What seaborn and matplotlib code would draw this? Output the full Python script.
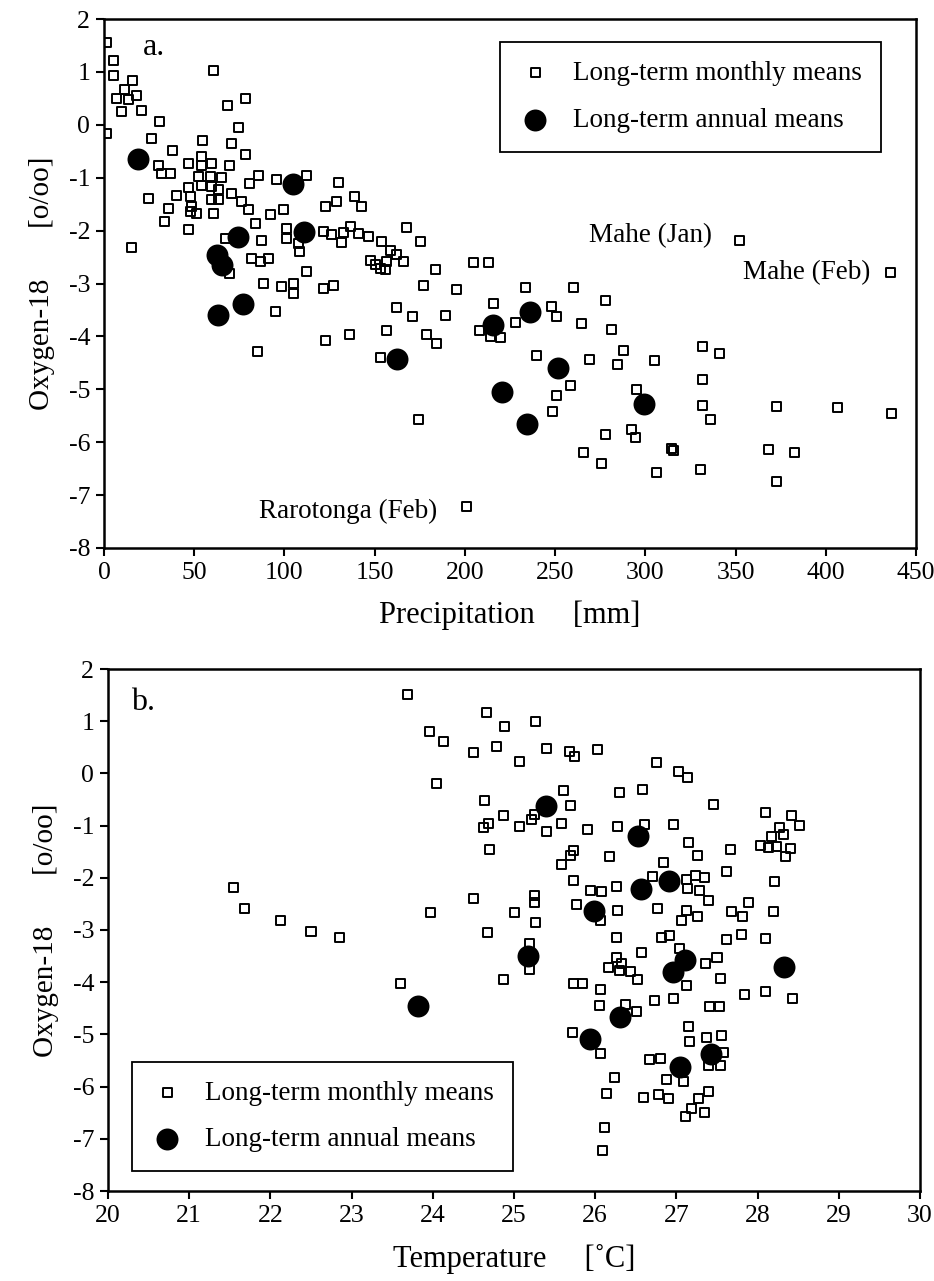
import numpy as np
import pandas as pd
import matplotlib
matplotlib.use("Agg")
import matplotlib.pyplot as plt
import seaborn as sns

sns.set_theme(style="white")
plt.rcParams['font.family'] = ['Liberation Serif', 'DejaVu Serif']
plt.rcParams['text.color'] = 'black'
plt.rcParams['axes.labelcolor'] = 'black'
plt.rcParams['xtick.color'] = 'black'
plt.rcParams['ytick.color'] = 'black'

# ---------------- Panel a: precipitation vs oxygen-18 ----------------
precip_monthly = [
    1.5, 5.2, 5.2, 1.5, 15.7, 11.6, 18.1, 7.0, 13.5, 9.8, 20.9, 30.5, 26.1, 60.6, 68.6, 78.5, 74.8,
    37.9, 54.5, 70.4, 78.2, 54.2, 30.1, 32.0, 37.1, 46.7, 53.8, 59.7, 69.5, 52.3, 58.8, 65.2, 85.5,
    80.9, 95.7, 112.3, 46.7, 53.8, 59.7, 63.4, 24.6, 40.3, 47.7, 35.6, 48.6, 59.7, 63.4, 33.8, 47.7,
    51.4, 60.6, 70.8, 76.3, 80.0, 92.0, 99.4, 46.7, 83.7, 15.4, 67.1, 87.4, 101.3, 101.3, 107.7,
    108.6, 81.9, 86.5, 91.1, 69.8, 112.3, 88.3, 98.5, 104.9, 104.9,
    94.8, 85.2, 121.6, 127.1, 122.5, 135.8, 121.6, 126.2, 131.7, 132.7, 136.4, 141.0, 146.5, 153.9,
    158.5, 162.3, 167.8, 175.2, 165.9, 156.7, 147.5, 150.2, 153.0, 155.8, 183.5, 204.7, 213.0,
    177.0, 195.5, 161.9, 171.1, 189.0, 215.8, 233.4, 260.2, 248.2, 250.6, 227.8, 208.0, 214.0,
    219.5, 264.8, 156.3, 178.5, 184.4, 153.0, 239.9, 269.0, 258.3, 250.9, 248.5, 174.2, 265.7,
    201.0, 122.5, 129.0, 142.8, 130.0, 139.0,
    352.0, 435.7, 277.7, 281.0, 287.9, 284.7, 304.9, 331.9, 341.1, 331.9, 295.3, 331.9, 335.9,
    372.5, 406.5, 436.6, 277.7, 292.5, 294.3, 275.9, 314.7, 315.6, 306.0, 330.4, 368.2, 382.6, 372.9,
]
o18_monthly_a = [
    1.56, 1.21, 0.93, -0.17, 0.83, 0.66, 0.56, 0.50, 0.47, 0.25, 0.27, 0.07, -0.26, 1.02, 0.36, 0.50, -0.05,
    -0.48, -0.29, -0.35, -0.57, -0.59, -0.76, -0.93, -0.92, -0.74, -0.76, -0.73, -0.76, -0.98, -0.97, -1.00, -0.96,
    -1.11, -1.04, -0.96, -1.18, -1.14, -1.17, -1.23, -1.40, -1.33, -1.36, -1.58, -1.55, -1.42, -1.42, -1.83, -1.64,
    -1.67, -1.67, -1.30, -1.45, -1.61, -1.69, -1.61, -1.97, -1.86, -2.32, -2.15, -2.18, -1.96, -2.15, -2.24,
    -2.40, -2.52, -2.59, -2.52, -2.81, -2.78, -3.00, -3.06, -3.00, -3.19,
    -3.53, -4.28, -3.09, -3.03, -4.07, -3.96, -2.02, -2.08, -2.23, -2.03, -1.93, -2.05, -2.11, -2.21,
    -2.37, -2.46, -1.94, -2.21, -2.59, -2.59, -2.56, -2.65, -2.71, -2.74, -2.73, -2.60, -2.60,
    -3.04, -3.12, -3.46, -3.63, -3.61, -3.37, -3.08, -3.08, -3.44, -3.63, -3.74, -3.88, -4.00,
    -4.02, -3.75, -3.88, -3.97, -4.14, -4.40, -4.37, -4.43, -4.93, -5.11, -5.42, -5.58, -6.19,
    -7.22, -1.55, -1.45, -1.55, -1.10, -1.35,
    -2.19, -2.79, -3.32, -3.87, -4.27, -4.53, -4.45, -4.19, -4.33, -4.82, -5.00, -5.31, -5.58,
    -5.33, -5.34, -5.45, -5.85, -5.76, -5.91, -6.40, -6.12, -6.16, -6.58, -6.51, -6.13, -6.19, -6.75,
]
precip_annual = [18.7, 104.9, 111.0, 74.4, 62.5, 65.2, 77.2, 63.4, 162.3, 215.5, 236.1, 251.5, 220.5, 234.3, 299.0]
o18_annual_a = [-0.65, -1.11, -2.02, -2.13, -2.46, -2.65, -3.39, -3.60, -4.43, -3.78, -3.53, -4.60, -5.05, -5.66, -5.28]

# ---------------- Panel b: temperature vs oxygen-18 ----------------
temp_monthly = [
    21.54, 21.68, 22.13, 22.50, 22.85,
    23.69, 23.96, 24.13, 24.05, 24.66, 24.88, 25.27, 24.78, 24.50, 25.07, 25.40, 25.68, 25.74, 26.03,
    26.75, 27.02, 24.64, 25.61, 25.70, 26.30, 26.58, 24.63, 24.68, 24.87, 25.07, 25.22, 25.25, 25.40,
    25.59, 25.90, 26.28, 26.61, 26.96, 24.70, 25.73, 25.69, 25.59, 26.17, 26.84, 26.71, 25.73, 25.94,
    26.08, 26.26, 25.77, 26.06, 26.28, 26.77, 25.25, 25.25, 24.50, 23.97, 25.01, 25.27, 24.67, 25.19,
    25.19, 26.26, 26.57, 26.82, 26.92,
    24.87, 23.60, 25.73, 25.84, 26.07, 26.05, 25.72, 26.06, 26.24, 26.14, 26.12, 26.09, 26.26, 26.33,
    26.16, 26.30, 26.44, 26.52, 26.37, 26.51,
    27.14, 27.46, 28.10, 28.42, 28.52, 28.27, 28.03, 28.13, 28.23, 28.32, 28.40, 28.34, 28.17, 27.15,
    27.26, 27.67, 27.62, 28.21, 27.89, 28.19, 27.68, 27.82, 27.13, 27.23, 27.34, 27.14, 27.28, 27.39,
    27.13, 27.06, 27.26, 27.62, 27.80, 28.10, 27.04, 27.36, 27.50, 27.54, 27.13, 27.84, 28.10, 28.43,
    26.73, 26.96, 27.41, 27.53, 27.15, 27.16, 27.37, 27.56, 27.58, 27.39, 27.54, 26.67, 26.80, 26.88,
    27.09, 26.59, 26.78, 26.90, 27.39, 27.27, 27.19, 27.11, 27.34,
]
o18_monthly_b = [
    -2.18, -2.58, -2.82, -3.03, -3.14,
    1.52, 0.80, 0.62, -0.19, 1.16, 0.89, 0.99, 0.52, 0.40, 0.23, 0.48, 0.41, 0.32, 0.46,
    0.21, 0.04, -0.51, -0.32, -0.62, -0.36, -0.30, -1.03, -0.96, -0.80, -1.01, -0.88, -0.79, -1.12,
    -0.96, -1.07, -1.02, -0.97, -0.97, -1.45, -1.47, -1.57, -1.75, -1.60, -1.70, -1.98, -2.05, -2.24,
    -2.27, -2.17, -2.52, -2.82, -2.63, -2.59, -2.34, -2.47, -2.39, -2.66, -2.67, -2.86, -3.05, -3.25,
    -3.75, -3.15, -3.44, -3.15, -3.10,
    -3.95, -4.03, -4.02, -4.02, -4.14, -4.45, -4.97, -5.36, -5.83, -6.13, -6.79, -7.22, -3.53, -3.65,
    -3.71, -3.78, -3.80, -3.94, -4.42, -4.57,
    -0.08, -0.59, -0.75, -0.80, -0.99, -1.04, -1.38, -1.42, -1.40, -1.18, -1.44, -1.60, -1.21, -1.33,
    -1.57, -1.45, -1.88, -2.08, -2.48, -2.64, -2.64, -2.75, -2.03, -1.96, -2.00, -2.20, -2.24, -2.44,
    -2.62, -2.81, -2.75, -3.18, -3.08, -3.16, -3.36, -3.64, -3.53, -3.92, -4.06, -4.23, -4.18, -4.32,
    -4.35, -4.31, -4.47, -4.47, -4.84, -5.14, -5.06, -5.03, -5.34, -5.60, -5.60, -5.48, -5.46, -5.87,
    -5.91, -6.20, -6.15, -6.22, -6.09, -6.23, -6.41, -6.57, -6.50,
]
temp_annual = [25.40, 26.53, 26.57, 26.91, 25.98, 25.17, 23.82, 26.31, 25.94, 27.10, 26.96, 28.32, 27.43, 27.04]
o18_annual_b = [-0.62, -1.19, -2.21, -2.07, -2.63, -3.49, -4.45, -4.67, -5.09, -3.58, -3.80, -3.71, -5.38, -5.63]

precip_ticks = [0, 50, 100, 150, 200, 250, 300, 350, 400, 450]
temp_ticks = [20, 21, 22, 23, 24, 25, 26, 27, 28, 29, 30]
o18_ticks = [2, 1, 0, -1, -2, -3, -4, -5, -6, -7, -8]

label_monthly = "Long-term monthly means"
label_annual = "Long-term annual means"

annotations_a = [
    ("Mahe (Jan)", 337, -2.10, "right"),
    ("Mahe (Feb)", 354, -2.80, "left"),
    ("Rarotonga (Feb)", 86, -7.30, "left"),
]

df_a_m = pd.DataFrame({"x": precip_monthly, "y": o18_monthly_a})
df_a_y = pd.DataFrame({"x": precip_annual, "y": o18_annual_a})
df_b_m = pd.DataFrame({"x": temp_monthly, "y": o18_monthly_b})
df_b_y = pd.DataFrame({"x": temp_annual, "y": o18_annual_b})

W, H = 934, 1281
fig = plt.figure(figsize=(W / 100, H / 100), dpi=100)
fig.patch.set_facecolor("white")
ax1 = fig.add_axes([104 / W, 1 - 548 / H, 812 / W, 529 / H])
ax2 = fig.add_axes([108 / W, 1 - 1191 / H, 812 / W, 522 / H])

TICK_FS = 18.5
LAB_FS = 21
LEG_FS = 19.5
sq_kw = dict(marker="s", s=42, facecolors="none", edgecolors="black", linewidth=1.4, zorder=3)
ci_kw = dict(marker="o", s=250, color="black", edgecolor="black", linewidth=0, zorder=4)

for ax, dm, dy in [(ax1, df_a_m, df_a_y), (ax2, df_b_m, df_b_y)]:
    sns.scatterplot(data=dm, x="x", y="y", ax=ax, label=label_monthly, **sq_kw)
    sns.scatterplot(data=dy, x="x", y="y", ax=ax, label=label_annual, **ci_kw)
    ax.set_facecolor("white")
    ax.set_ylim(-8, 2)
    ax.set_yticks(o18_ticks)
    ax.set_yticklabels([str(t) for t in o18_ticks])
    for sp in ax.spines.values():
        sp.set_visible(True)
        sp.set_color("black")
        sp.set_linewidth(1.8)
    ax.tick_params(axis="both", direction="out", length=6, width=1.5, colors="black",
                   labelsize=TICK_FS, pad=4, bottom=True, left=True)
    ax.set_ylabel("Oxygen-18       [o/oo]", fontsize=LAB_FS, labelpad=10)
    ax.grid(False)

ax1.set_xlim(0, 450)
ax1.set_xticks(precip_ticks)
ax1.set_xticklabels([str(t) for t in precip_ticks])
ax1.set_xlabel("Precipitation     [mm]", fontsize=LAB_FS + 1, labelpad=12)

ax2.set_xlim(20, 30)
ax2.set_xticks(temp_ticks)
ax2.set_xticklabels([str(t) for t in temp_ticks])
ax2.set_xlabel("Temperature     [\u02daC]", fontsize=LAB_FS + 1, labelpad=12)

for txt, x, y, ha in annotations_a:
    ax1.text(x, y, txt, fontsize=LEG_FS, ha=ha, va="center", color="black")

ax1.text(0.048, 0.947, "a.", transform=ax1.transAxes, fontsize=23, ha="left", va="center")
ax2.text(0.028, 0.935, "b.", transform=ax2.transAxes, fontsize=23, ha="left", va="center")

leg_kw = dict(fontsize=LEG_FS, frameon=True, fancybox=False, edgecolor="black", framealpha=1,
              borderpad=0.7, labelspacing=0.8, handletextpad=0.8, handlelength=1.2,
              borderaxespad=0)
l1 = ax1.legend(loc="upper left", bbox_to_anchor=(0.488, 0.9565), **leg_kw)
l2 = ax2.legend(loc="lower left", bbox_to_anchor=(0.0296, 0.038), **leg_kw)
for lg in (l1, l2):
    lg.get_frame().set_linewidth(1.3)

fig.savefig("out.png", dpi=100, facecolor="white")
